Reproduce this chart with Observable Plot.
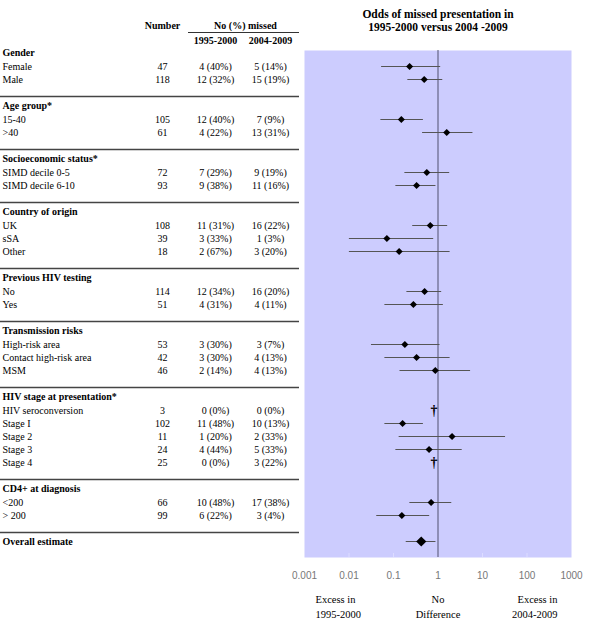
<!DOCTYPE html>
<html><head><meta charset="utf-8">
<script src="https://cdn.jsdelivr.net/npm/d3@7"></script>
<script src="https://cdn.jsdelivr.net/npm/@observablehq/plot@0.6"></script>
<style>body{margin:0;background:#fff} svg{display:block}</style>
</head><body><div id="chart"></div>
<script>
const groups = ["Gender","Age group*","Socioeconomic status*","Country of origin","Previous HIV testing","Transmission risks","HIV stage at presentation*","CD4+ at diagnosis"];
const labels = ["Female","Male","15-40",">40","SIMD decile 0-5","SIMD decile 6-10","UK","sSA","Other","No","Yes","High-risk area","Contact high-risk area","MSM","HIV seroconversion","Stage I","Stage 2","Stage 3","Stage 4","<200","> 200"];
const groupIdx = [0,0,1,1,2,2,3,3,3,4,4,5,5,5,6,6,6,6,6,7,7];
const number = [47,118,105,61,72,93,108,39,18,114,51,53,42,46,3,102,11,24,25,66,99];
const missed9500 = ["4 (40%)","12 (32%)","12 (40%)","4 (22%)","7 (29%)","9 (38%)","11 (31%)","3 (33%)","2 (67%)","12 (34%)","4 (31%)","3 (30%)","3 (30%)","2 (14%)","0 (0%)","11 (48%)","1 (20%)","4 (44%)","0 (0%)","10 (48%)","6 (22%)"];
const missed0409 = ["5 (14%)","15 (19%)","7 (9%)","13 (31%)","9 (19%)","11 (16%)","16 (22%)","1 (3%)","3 (20%)","16 (20%)","4 (11%)","3 (7%)","4 (13%)","4 (13%)","0 (0%)","10 (13%)","2 (33%)","5 (33%)","3 (22%)","17 (38%)","3 (4%)"];
const oddsRatio = [0.23,0.49,0.15,1.57,0.56,0.33,0.67,0.071,0.134,0.50,0.28,0.18,0.33,0.87,null,0.16,2.07,0.63,null,0.70,0.154];
const ciLow  = [0.054,0.21,0.052,0.45,0.18,0.113,0.27,0.0102,0.0102,0.20,0.064,0.032,0.064,0.14,null,0.064,0.134,0.113,null,0.233,0.042];
const ciHigh = [1.15,1.28,0.47,6.1,1.83,0.90,1.65,0.80,1.87,1.21,1.32,1.11,1.87,5.4,null,0.47,33,3.5,null,2.04,0.65];
const overallLabel = "Overall estimate";
const overallOR = 0.42, overallLow = 0.193, overallHigh = 0.90;
const tickValues = [0.001,0.01,0.1,1,10,100,1000];
const tickLabels = ["0.001","0.01","0.1","1","10","100","1000"];
const titleText = "Odds of missed presentation in\n1995-2000 versus 2004 -2009";
const headNumber = "Number", headMissed = "No (%) missed", headP1 = "1995-2000", headP2 = "2004-2009";
const footLeft = "Excess in\n1995-2000", footMid = "No\nDifference", footRight = "Excess in\n2004-2009";

// layout in row units (1 unit = one table row)
const A = 14/13, B = 17/13, C = 9/13;
const headings = [], rows = [], seps = [];
let cur = 0;
groups.forEach((g, gi) => {
  headings.push({label: g, y: cur});
  cur += A;
  const idx = groupIdx.map((v,i)=>v===gi?i:-1).filter(i=>i>=0);
  idx.forEach((i, k) => {
    if (k > 0) cur += 1;
    rows.push({label: labels[i], n: number[i], m1: missed9500[i], m2: missed0409[i], or: oddsRatio[i], lo: ciLow[i], hi: ciHigh[i], y: cur});
  });
  cur += B;
  seps.push(cur);
  cur += C;
});
const overall = {label: overallLabel, or: overallOR, lo: overallLow, hi: overallHigh, y: cur};
headings.push({label: overallLabel, y: cur});

const px = p => (p - 52) / 13;
const serif = "Liberation Serif, Times New Roman, serif";
const est = rows.filter(d => d.or != null);
const dag = rows.filter(d => d.or == null);
const tickMap = new Map(tickValues.map((v,i)=>[v,tickLabels[i]]));

const chart = Plot.plot({
  width: 600, height: 623,
  marginLeft: 304, marginRight: 29, marginTop: 50, marginBottom: 66,
  style: {background: "#fff", fontFamily: serif},
  x: {type: "log", domain: [0.001, 1000]},
  y: {domain: [px(50), px(557)], reverse: true, axis: null},
  marks: [
    Plot.frame({fill: "#ccccfe", stroke: null}),
    Plot.ruleX(tickValues.slice(1,-1).filter(v=>v!==1), {stroke: "#dcdcff", insetTop: 503}),
    Plot.ruleX([1], {stroke: "#50506e", strokeWidth: 1}),
    Plot.ruleY(est, {y: "y", x1: "lo", x2: "hi", stroke: "#555", strokeWidth: 1}),
    Plot.ruleY([overall], {y: "y", x1: "lo", x2: "hi", stroke: "#555", strokeWidth: 1}),
    Plot.dot(est, {x: "or", y: "y", symbol: "diamond2", r: 3.2, fill: "#000", stroke: null}),
    Plot.dot([overall], {x: "or", y: "y", symbol: "diamond2", r: 4.6, fill: "#000", stroke: null}),
    Plot.text(dag, {x: () => 1, y: "y", text: () => "†", dx: -4, fontSize: 14, fontWeight: "bold", fill: "black", fontFamily: "Liberation Serif, serif"}),
    Plot.axisX({ticks: tickValues, tickFormat: d => tickMap.get(d), tickSize: 0, tickPadding: 14, fontSize: 10, fontFamily: "Liberation Sans, Arial, sans-serif", color: "#777", label: null}),
    // separators
    Plot.ruleY(seps, {stroke: "#444", strokeWidth: 1.6, insetLeft: -304, insetRight: 272}),
    Plot.ruleY([px(32)], {stroke: "#333", strokeWidth: 1, insetLeft: -116, insetRight: 272}),
    // table
    Plot.text(headings, {y: "y", text: "label", frameAnchor: "left", textAnchor: "start", dx: -302, fontWeight: "bold", fontSize: 10, fill: "#000"}),
    Plot.text(rows, {y: "y", text: "label", frameAnchor: "left", textAnchor: "start", dx: -302, fontSize: 10, fill: "#000"}),
    Plot.text(rows, {y: "y", text: "n", frameAnchor: "left", textAnchor: "middle", dx: -142, fontSize: 10, fill: "#000"}),
    Plot.text(rows, {y: "y", text: "m1", frameAnchor: "left", textAnchor: "middle", dx: -89, fontSize: 10, fill: "#000"}),
    Plot.text(rows, {y: "y", text: "m2", frameAnchor: "left", textAnchor: "middle", dx: -34, fontSize: 10, fill: "#000"}),
    Plot.text([headNumber], {y: () => px(25), text: d => d, frameAnchor: "left", textAnchor: "middle", dx: -142, fontWeight: "bold", fontSize: 10}),
    Plot.text([headMissed], {y: () => px(25), text: d => d, frameAnchor: "left", textAnchor: "middle", dx: -59, fontWeight: "bold", fontSize: 10}),
    Plot.text([headP1], {y: () => px(40), text: d => d, frameAnchor: "left", textAnchor: "middle", dx: -89, fontWeight: "bold", fontSize: 10}),
    Plot.text([headP2], {y: () => px(40), text: d => d, frameAnchor: "left", textAnchor: "middle", dx: -34, fontWeight: "bold", fontSize: 10}),
    // title
    Plot.text([titleText], {x: () => 1, y: () => px(19.5), text: d => d, fontWeight: "bold", fontSize: 11.5, lineHeight: 1.15, fill: "#000"}),
    // footer
    Plot.text([footLeft], {frameAnchor: "bottom-left", lineAnchor: "middle", text: d => d, dx: 11, dy: 48.5, fontSize: 10.5, lineHeight: 1.4, fill: "#000"}),
    Plot.text([footMid], {x: () => 1, frameAnchor: "bottom", lineAnchor: "middle", text: d => d, dy: 48.5, fontSize: 10.5, lineHeight: 1.4, fill: "#000"}),
    Plot.text([footRight], {frameAnchor: "bottom-right", lineAnchor: "middle", text: d => d, dx: -14, dy: 48.5, fontSize: 10.5, lineHeight: 1.4, fill: "#000"})
  ]
});
document.getElementById("chart").appendChild(chart);
</script>
</body></html>
